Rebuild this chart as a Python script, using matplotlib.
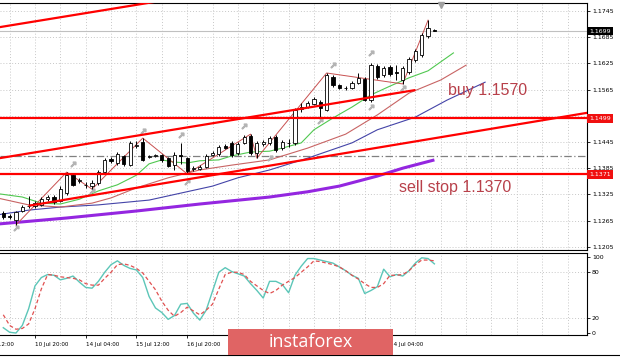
import matplotlib
matplotlib.use("Agg")
import matplotlib.pyplot as plt
from matplotlib.patches import Rectangle
from matplotlib.lines import Line2D

# H4 candles, bar 0 = 10 Jul 20:00
bar_index = list(range(-5, 64))
opens = [1.1282, 1.1275, 1.1266, 1.1287, 1.1298, 1.1298, 1.1301, 1.1314, 1.1319, 1.1310,
         1.1328, 1.1369, 1.1356, 1.1346, 1.1344, 1.1351, 1.1376, 1.1406, 1.1397, 1.1413,
         1.1392, 1.1436, 1.1445, 1.1411, 1.1413, 1.1415, 1.1408, 1.1392, 1.1415, 1.1408,
         1.1383, 1.1383, 1.1388, 1.1415, 1.1418, 1.1436, 1.1443, 1.1420, 1.1443, 1.1459,
         1.1420, 1.1441, 1.1443, 1.1456, 1.1431, 1.1443, 1.1443, 1.1521, 1.1525, 1.1532,
         1.1537, 1.1518, 1.1594, 1.1575, 1.1568, 1.1568, 1.1580, 1.1589, 1.1541, 1.1619,
         1.1598, 1.1617, 1.1605, 1.1587, 1.1605, 1.1633, 1.1644, 1.1688, 1.1702]
highs = [1.1287, 1.1280, 1.1287, 1.1301, 1.1321, 1.1310, 1.1319, 1.1324, 1.1324, 1.1344,
         1.1376, 1.1374, 1.1362, 1.1353, 1.1358, 1.1381, 1.1408, 1.1410, 1.1422, 1.1415,
         1.1447, 1.1447, 1.1454, 1.1415, 1.1417, 1.1417, 1.1411, 1.1422, 1.1443, 1.1411,
         1.1390, 1.1392, 1.1417, 1.1424, 1.1438, 1.1440, 1.1447, 1.1445, 1.1461, 1.1463,
         1.1447, 1.1450, 1.1459, 1.1461, 1.1450, 1.1452, 1.1523, 1.1534, 1.1539, 1.1548,
         1.1541, 1.1603, 1.1598, 1.1578, 1.1573, 1.1585, 1.1603, 1.1594, 1.1626, 1.1623,
         1.1619, 1.1621, 1.1621, 1.1619, 1.1640, 1.1658, 1.1694, 1.1724, 1.1704]
lows = [1.1269, 1.1269, 1.1255, 1.1285, 1.1294, 1.1294, 1.1298, 1.1310, 1.1303, 1.1307,
        1.1324, 1.1344, 1.1351, 1.1340, 1.1337, 1.1346, 1.1372, 1.1397, 1.1392, 1.1390,
        1.1390, 1.1431, 1.1401, 1.1408, 1.1411, 1.1399, 1.1388, 1.1381, 1.1395, 1.1372,
        1.1379, 1.1381, 1.1385, 1.1413, 1.1413, 1.1429, 1.1411, 1.1415, 1.1440, 1.1415,
        1.1408, 1.1436, 1.1438, 1.1422, 1.1427, 1.1434, 1.1438, 1.1514, 1.1523, 1.1530,
        1.1500, 1.1516, 1.1571, 1.1566, 1.1564, 1.1566, 1.1578, 1.1539, 1.1537, 1.1589,
        1.1594, 1.1596, 1.1587, 1.1578, 1.1601, 1.1628, 1.1640, 1.1683, 1.1699]
closes = [1.1273, 1.1273, 1.1285, 1.1296, 1.1299, 1.1305, 1.1314, 1.1319, 1.1307, 1.1337,
          1.1369, 1.1346, 1.1358, 1.1347, 1.1351, 1.1376, 1.1404, 1.1401, 1.1418, 1.1395,
          1.1443, 1.1438, 1.1404, 1.1413, 1.1415, 1.1404, 1.1390, 1.1415, 1.1413, 1.1379,
          1.1385, 1.1388, 1.1413, 1.1420, 1.1433, 1.1431, 1.1415, 1.1440, 1.1456, 1.1420,
          1.1443, 1.1445, 1.1454, 1.1427, 1.1445, 1.1442, 1.1518, 1.1525, 1.1534, 1.1544,
          1.1523, 1.1598, 1.1575, 1.1568, 1.1569, 1.1580, 1.1591, 1.1541, 1.1621, 1.1594,
          1.1614, 1.1601, 1.1603, 1.1614, 1.1635, 1.1653, 1.1690, 1.1706, 1.1699]

# Alligator lines (shifted forward) and the long moving average
lips_bars = [-6, -2, 1, 4, 7, 10, 13, 16, 18, 20, 22, 24, 26, 29, 31, 34, 37, 39, 42, 44, 47, 50, 53, 56, 59, 62, 66]
lips_vals = [1.1327, 1.1319, 1.1305, 1.1303, 1.1314, 1.1333, 1.1347, 1.1369, 1.1395, 1.1404, 1.1399,
             1.1397, 1.1402, 1.1404, 1.1413, 1.1422, 1.1424, 1.1431, 1.1443, 1.1473, 1.1500, 1.1525,
             1.1553, 1.1573, 1.1592, 1.1608, 1.1649]
teeth_bars = [-6, -1, 4, 9, 12, 16, 21, 26, 31, 37, 41, 43, 49, 54, 59, 64, 68]
teeth_vals = [1.1317, 1.1301, 1.1296, 1.1305, 1.1317, 1.1340, 1.1363, 1.1381, 1.1392, 1.1404, 1.1422,
              1.1431, 1.1463, 1.1507, 1.1557, 1.1587, 1.1621]
jaw_bars = [-6, -1, 4, 10, 18, 23, 28, 32, 37, 43, 50, 54, 60, 65, 71]
jaw_vals = [1.1278, 1.1289, 1.1296, 1.1301, 1.1312, 1.1328, 1.1344, 1.1363, 1.1381, 1.1408, 1.1443,
            1.1473, 1.1502, 1.1541, 1.1582]
slow_ma_bars = [-6, 5, 16, 26, 37, 43, 48, 54, 58, 63]
slow_ma_vals = [1.1257, 1.1271, 1.1287, 1.1303, 1.1319, 1.1331, 1.1344, 1.1367, 1.1385, 1.1404]

# zigzag swing points
zigzag_bars = [-3, 5, 9, 17, 24, 34, 35, 46, 58, 62]
zigzag_vals = [1.1255, 1.1376, 1.1337, 1.1454, 1.1372, 1.1463, 1.1408, 1.1603, 1.1578, 1.1724]

# fractal marks
fractal_bars = [-3, 6, 9, 17, 23, 24, 33, 37, 45, 47, 53, 53, 58]
fractal_vals = [1.1248, 1.1395, 1.1333, 1.1470, 1.1461, 1.1353, 1.1482, 1.1409, 1.1493, 1.1621,
                1.1649, 1.1525, 1.1569]

# drawn trend lines: (bar, price) end points
top_line = ([-6, 24], [1.1707, 1.1778])
upper_channel = ([-6, 60], [1.1407, 1.1564])
lower_channel = ([-1, 88], [1.1299, 1.1514])
level_buy_zone = 1.1499
level_sell = 1.1371
level_dashdot = 1.1414
last_price = 1.1699

# stochastic oscillator
stoch_main = [7, 1, 0, 10, 32, 62, 73, 77, 76, 70, 72, 75, 67, 60, 59, 68, 80, 90, 95, 89, 85, 83,
              73, 48, 33, 27, 18, 23, 38, 39, 26, 17, 30, 55, 80, 86, 81, 78, 75, 65, 56, 46, 68,
              68, 64, 53, 76, 88, 98, 98, 96, 94, 92, 87, 82, 76, 72, 52, 56, 61, 84, 74, 77, 75,
              82, 92, 99, 98, 91]
stoch_signal = [24, 10, 5, 6, 12, 32, 58, 77, 76, 74, 73, 72, 70, 65, 63, 63, 72, 80, 90, 91, 89,
                85, 79, 68, 57, 42, 30, 22, 27, 34, 29, 24, 30, 38, 58, 77, 80, 80, 77, 68, 62, 56,
                52, 56, 63, 68, 73, 80, 87, 95, 94, 92, 90, 87, 82, 76, 71, 65, 60, 60, 65, 76, 76,
                77, 82, 90, 96, 96, 95]

price_ticks = [1.1205, 1.1265, 1.1325, 1.1385, 1.1445, 1.1505, 1.1565, 1.1625, 1.1685, 1.1745]
hidden_price_ticks = [1.1505]  # covered by the 1.1499 box
osc_ticks = [0, 20, 80, 100]
time_ticks = [-8, 0, 8, 16, 24, 32, 40, 48, 56]
time_labels = ["9 Jul 12:00", "10 Jul 20:00", "14 Jul 04:00", "15 Jul 12:00", "16 Jul 20:00",
               "20 Jul 04:00", "21 Jul 12:00", "22 Jul 20:00", "24 Jul 04:00"]
hidden_time_labels = ["20 Jul 04:00", "21 Jul 12:00", "22 Jul 20:00"]  # under the logo

W, H = 620, 358
fig = plt.figure(figsize=(W / 100, H / 100), dpi=100)


def px_axes(left, top, right, bottom):
    return fig.add_axes([left / W, 1 - bottom / H, (right - left) / W, (bottom - top) / H])


ax = px_axes(0, 3, 587, 250)
osc = px_axes(0, 253, 587, 335)

x_range = (-5.52, 87.07)
grid_kw = dict(color="#c8c8c8", lw=0.7, ls=(0, (1, 2)), zorder=0)
for a in (ax, osc):
    for gx in range(-4, 88, 4):
        a.axvline(gx, **grid_kw)
    a.spines["left"].set_visible(False)
    for s in ("top", "right", "bottom"):
        a.spines[s].set_linewidth(0.8)
        a.spines[s].set_color("black")
    a.yaxis.tick_right()
    a.tick_params(axis="y", labelsize=4.5, length=2, width=0.6, pad=1.5)
    a.tick_params(axis="x", labelbottom=False, length=0)

ax.set_ylim(1.11977, 1.17633)
ax.set_yticks(price_ticks)
ax.set_yticklabels(["" if p in hidden_price_ticks else f"{p:.4f}" for p in price_ticks])
for p in price_ticks:
    ax.axhline(p, **grid_kw)

# level lines
ax.axhline(last_price, color="#c0c0c0", lw=0.8, zorder=1)
ax.axhline(level_dashdot, color="#808080", lw=0.9, ls=(0, (6, 2, 1, 2)), zorder=1)

# moving averages
ax.plot(slow_ma_bars, slow_ma_vals, color="#9426e0", lw=2.2, zorder=2, solid_capstyle="butt")
ax.plot(jaw_bars, jaw_vals, color="#4444a8", lw=0.8, zorder=2)
ax.plot(teeth_bars, teeth_vals, color="#c86464", lw=0.8, zorder=2)
ax.plot(lips_bars, lips_vals, color="#50c850", lw=0.8, zorder=2)

# candles
for i, o, h, l, c in zip(bar_index, opens, highs, lows, closes):
    ax.vlines(i, l, h, color="black", lw=0.7, zorder=5)
    body = max(abs(c - o), 0.00006)
    ax.bar(i, body, bottom=min(o, c), width=0.5, color="white" if c >= o else "black",
           edgecolor="black", lw=0.6, zorder=6)

# zigzag and fractals
ax.plot(zigzag_bars, zigzag_vals, color="#c85050", lw=0.7, zorder=4)
ax.plot(fractal_bars, fractal_vals, ls="none", marker=r"$\nearrow$", ms=3.5, color="#b4b4b4", zorder=4)

# drawn trend lines
red_kw = dict(color="#ff0000", lw=1.6, zorder=7, solid_capstyle="butt")
ax.plot(*top_line, **red_kw)
ax.plot(*upper_channel, **red_kw)
ax.plot(*lower_channel, **red_kw)
ax.axhline(level_buy_zone, **red_kw)
ax.axhline(level_sell, **red_kw)

# shift marker
ax.plot([64], [1.1758], marker="v", ms=4, color="#a0a0a0", clip_on=False, zorder=8)

ax.text(65.1, 1.1564, "buy 1.1570", color="#b8404a", fontsize=11.5, family="Liberation Sans",
        va="center", ha="left", zorder=9)
ax.text(57.4, 1.1340, "sell stop 1.1370", color="#b8404a", fontsize=11.5, family="Liberation Sans",
        va="center", ha="left", zorder=9)

# price boxes on the right scale
for value, face in ((last_price, "black"), (level_buy_zone, "#f01010"), (level_sell, "#f01010")):
    ax.text(1.004, value, f"{value:.4f}", transform=ax.get_yaxis_transform(), fontsize=4.5,
            color="white", va="center", ha="left", clip_on=False, zorder=10,
            bbox=dict(boxstyle="square,pad=0.3", fc=face, ec="none"))

# stochastic
osc.set_yticks(osc_ticks)
osc.set_yticklabels([str(t) for t in osc_ticks])
for lvl in (20, 80):
    osc.axhline(lvl, **grid_kw)
osc.plot(bar_index, stoch_main, color="#5cc6b8", lw=1.0, zorder=3)
osc.plot(bar_index, stoch_signal, color="#e05050", lw=0.9, ls=(0, (3, 2)), zorder=3)

osc.set_xticks(time_ticks)
osc.tick_params(axis="x", length=2, width=0.6, direction="out")
for t, lab in zip(time_ticks, time_labels):
    if lab in hidden_time_labels:
        continue
    osc.text(t, -0.12, lab, transform=osc.get_xaxis_transform(), fontsize=4.1, ha="left",
             va="center", clip_on=False)

# limits last, so the tick settings cannot widen them
for a in (ax, osc):
    a.set_xlim(*x_range)
osc.set_ylim(-2.6, 105.3)

# bottom frame line
fig.add_artist(Line2D([0, 1], [1 - 355 / H] * 2, transform=fig.transFigure, color="black", lw=0.8))

# watermark logo
fig.add_artist(Rectangle((228 / W, 1 - 355 / H), 165 / W, 26 / H, transform=fig.transFigure,
                         fc="#e06464", ec="none", zorder=20))
fig.text(310.5 / W, 1 - 342 / H, "instaforex", color="white", fontsize=13, ha="center",
         va="center", family="Open Sans", zorder=21)

fig.savefig("out.png", dpi=100)
